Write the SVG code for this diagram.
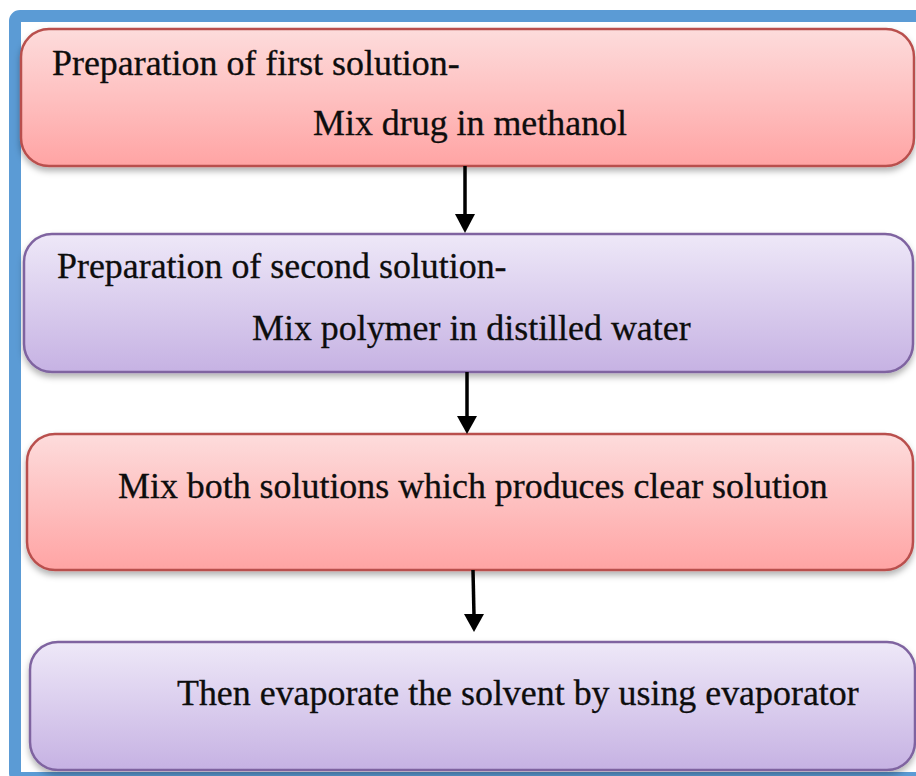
<svg xmlns="http://www.w3.org/2000/svg" width="916" height="776" viewBox="0 0 916 776">
  <style>
    .pink { fill: url(#gPink); stroke: #b9504d; stroke-width: 2.5; }
    .purple { fill: url(#gPurple); stroke: #7f64a0; stroke-width: 2.5; }
    .label { font-family: "Liberation Serif", "Times New Roman", serif; font-size: 35.9px; fill: #0d0d0d; stroke: #0d0d0d; stroke-width: 0.3; }
    .shaft { stroke: #000; stroke-width: 3.5; fill: none; }
    .head { fill: #000; }
  </style>
  <defs>
    <linearGradient id="gPink" x1="0" y1="0" x2="0" y2="1">
      <stop offset="0" stop-color="#fddcdc"/>
      <stop offset="1" stop-color="#ffa4a4"/>
    </linearGradient>
    <linearGradient id="gPurple" x1="0" y1="0" x2="0" y2="1">
      <stop offset="0" stop-color="#eee8f8"/>
      <stop offset="1" stop-color="#c6b2e3"/>
    </linearGradient>
    <filter id="shadow" x="-5%" y="-10%" width="110%" height="130%">
      <feDropShadow dx="0" dy="4" stdDeviation="3" flood-color="#000" flood-opacity="0.3"/>
    </filter>
  </defs>

  <rect x="0" y="0" width="916" height="776" fill="#fff"/>
  <!-- blue frame -->
  <rect x="15" y="16" width="920" height="762" rx="5" fill="#fff" stroke="#5b9bd5" stroke-width="12"/>

  <g id="step1" filter="url(#shadow)">
    <rect class="pink" x="21" y="29" width="893" height="137" rx="28"/>
  </g>
  <g id="step1-text">
    <text class="label" x="52" y="75">Preparation of first solution-</text>
    <text class="label" x="313" y="135">Mix drug in methanol</text>
  </g>

  <g id="step2" filter="url(#shadow)">
    <rect class="purple" x="24" y="234" width="889" height="138" rx="28"/>
  </g>
  <g id="step2-text">
    <text class="label" x="57" y="278">Preparation of second solution-</text>
    <text class="label" x="252" y="340">Mix polymer in distilled water</text>
  </g>

  <g id="step3" filter="url(#shadow)">
    <rect class="pink" x="27" y="434" width="886" height="136" rx="28"/>
  </g>
  <g id="step3-text">
    <text class="label" x="118" y="498">Mix both solutions which produces clear solution</text>
  </g>

  <g id="step4" filter="url(#shadow)">
    <rect class="purple" x="30" y="642" width="885" height="128" rx="28"/>
  </g>
  <g id="step4-text">
    <text class="label" x="177" y="705">Then evaporate the solvent by using evaporator</text>
  </g>

  <g id="connectors">
    <line class="shaft" x1="465" y1="166" x2="465" y2="216"/>
    <polygon class="head" points="455,214 475,214 465,233"/>
    <line class="shaft" x1="467" y1="372" x2="467" y2="418"/>
    <polygon class="head" points="457,416 477,416 467,434"/>
    <line class="shaft" x1="473" y1="570" x2="474" y2="616"/>
    <polygon class="head" points="464,614 484,614 474,632"/>
  </g>
</svg>
